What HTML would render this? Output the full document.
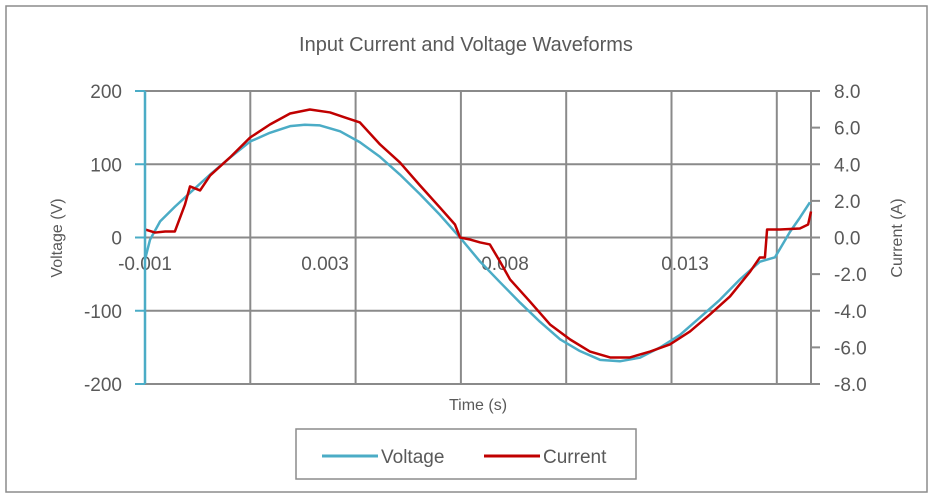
<!DOCTYPE html>
<html><head><meta charset="utf-8"><style>
body{margin:0;background:#fff;font-family:"Liberation Sans",sans-serif}
svg text{font-family:"Liberation Sans",sans-serif;fill:#595959}
</style></head><body>
<svg width="934" height="498">
<rect x="6" y="6" width="921" height="486" fill="#fff" stroke="#8c8c8c" stroke-width="1.5"/>
<text x="466" y="51" font-size="20" text-anchor="middle">Input Current and Voltage Waveforms</text>
<g id="grid"></g>
<g id="axes"></g>
<g id="series"></g>
<text transform="translate(62,238) rotate(-90)" font-size="16" text-anchor="middle">Voltage (V)</text>
<text transform="translate(902,238) rotate(-90)" font-size="16" text-anchor="middle">Current (A)</text>
<text x="478" y="410" font-size="16" text-anchor="middle">Time (s)</text>
<g>
<rect x="296" y="429" width="340" height="50" fill="#fff" stroke="#8c8c8c" stroke-width="1.5"/>
<line x1="322" y1="456" x2="378" y2="456" stroke="#4bacc6" stroke-width="3"/>
<text x="381" y="463" font-size="19">Voltage</text>
<line x1="484" y1="456" x2="540" y2="456" stroke="#c00000" stroke-width="3"/>
<text x="543" y="463" font-size="19">Current</text>
</g>
</svg>
<script>
const voltT=[-1.0,-0.86,-0.58,-0.17,0.25,0.81,1.36,1.92,2.47,3.03,3.44,3.86,4.42,4.97,5.53,6.08,6.64,7.19,7.75,8.31,8.86,9.42,9.97,10.53,11.08,11.64,12.19,12.75,13.31,13.86,14.42,14.97,15.53,16.08,16.5,16.92,17.19,17.47];
const voltV=[-30,-3,22,42,61,86,109,131,143,152,154,153,145,130,110,86,59,31,0,-33,-61,-89,-115,-139,-155,-167,-169,-164,-150,-133,-109,-85,-57,-33,-27,8,27,48];
const curT=[-1,-0.72,-0.44,-0.17,0.11,0.25,0.53,0.81,1.36,1.92,2.47,3.03,3.58,4.14,4.56,4.97,5.53,6.08,6.64,7.19,7.61,7.75,8.03,8.31,8.58,8.86,9.14,9.69,10.25,10.81,11.36,11.92,12.47,13.03,13.58,14.14,14.69,15.25,15.81,16.08,16.22,16.28,16.64,17.19,17.42,17.5];
const curI=[0.44,0.27,0.33,0.33,1.8,2.79,2.57,3.39,4.37,5.46,6.17,6.77,6.99,6.83,6.55,6.28,5.08,4.1,2.84,1.64,0.71,0,-0.11,-0.27,-0.38,-1.31,-2.29,-3.49,-4.75,-5.57,-6.23,-6.55,-6.55,-6.23,-5.84,-5.13,-4.21,-3.22,-1.86,-1.09,-1.09,0.44,0.44,0.49,0.71,1.42];
const voltTicks=[200,100,0,-100,-200];
const curTicks=[8,6,4,2,0,-2,-4,-6,-8];
const xTickTimes=[-1,4,9,14];
const xTickLabels=["-0.001","0.003","0.008","0.013"];
const X0=145,X1=811,Y0=91,Y1=384;
const tMin=-1,tMax=-1+(X1-X0)/36;
const xs=t=>X0+(t-tMin)/(tMax-tMin)*(X1-X0);
const yv=v=>Y1-(v+200)/400*(Y1-Y0);
const yi=a=>Y1-(a+8)/16*(Y1-Y0);
const NS="http://www.w3.org/2000/svg";
function mk(tag,at,parent){const e=document.createElementNS(NS,tag);for(const k in at)e.setAttribute(k,at[k]);parent.appendChild(e);return e;}
const grid=document.getElementById('grid'),axes=document.getElementById('axes'),ser=document.getElementById('series');
voltTicks.forEach(v=>{const l=mk('line',{x1:X0,x2:X1,y1:yv(v),y2:yv(v),stroke:'#8a8a8a','stroke-width':2},grid);


const tk=mk('line',{x1:X0-10,x2:X0,y1:yv(v),y2:yv(v),stroke:'#4bacc6','stroke-width':2},axes);


const t=mk('text',{x:122,y:yv(v)+7,'font-size':19,'text-anchor':'end'},axes);t.textContent=v;

});
for(let x=X0+105.3;x<X1-5;x+=105.3){const l=mk('line',{x1:x,x2:x,y1:Y0,y2:Y1,stroke:'#8a8a8a','stroke-width':2},grid);

}
const ra=mk('line',{x1:X1,x2:X1,y1:Y0,y2:Y1,stroke:'#8a8a8a','stroke-width':2},axes);


curTicks.forEach(a=>{const tk=mk('line',{x1:X1,x2:X1+9,y1:yi(a),y2:yi(a),stroke:'#8a8a8a','stroke-width':2},axes);


const t=mk('text',{x:834,y:yi(a)+7,'font-size':19},axes);t.textContent=(a<0?'-':'')+Math.abs(a).toFixed(1);

});
xTickTimes.forEach((tt,i)=>{const t=mk('text',{x:xs(tt),y:270,'font-size':19,'text-anchor':'middle'},axes);t.textContent=xTickLabels[i];

});
const pv=mk('polyline',{points:voltT.map((t,i)=>xs(t)+','+yv(voltV[i])).join(' '),fill:'none',stroke:'#4bacc6','stroke-width':2.5,'stroke-linejoin':'round'},ser);


const pc=mk('polyline',{points:curT.map((t,i)=>xs(t)+','+yi(curI[i])).join(' '),fill:'none',stroke:'#c00000','stroke-width':2.5,'stroke-linejoin':'round'},ser);


const la=mk('line',{x1:X0,x2:X0,y1:Y0,y2:Y1,stroke:'#4bacc6','stroke-width':2.5},ser);


</script>
</body></html>
